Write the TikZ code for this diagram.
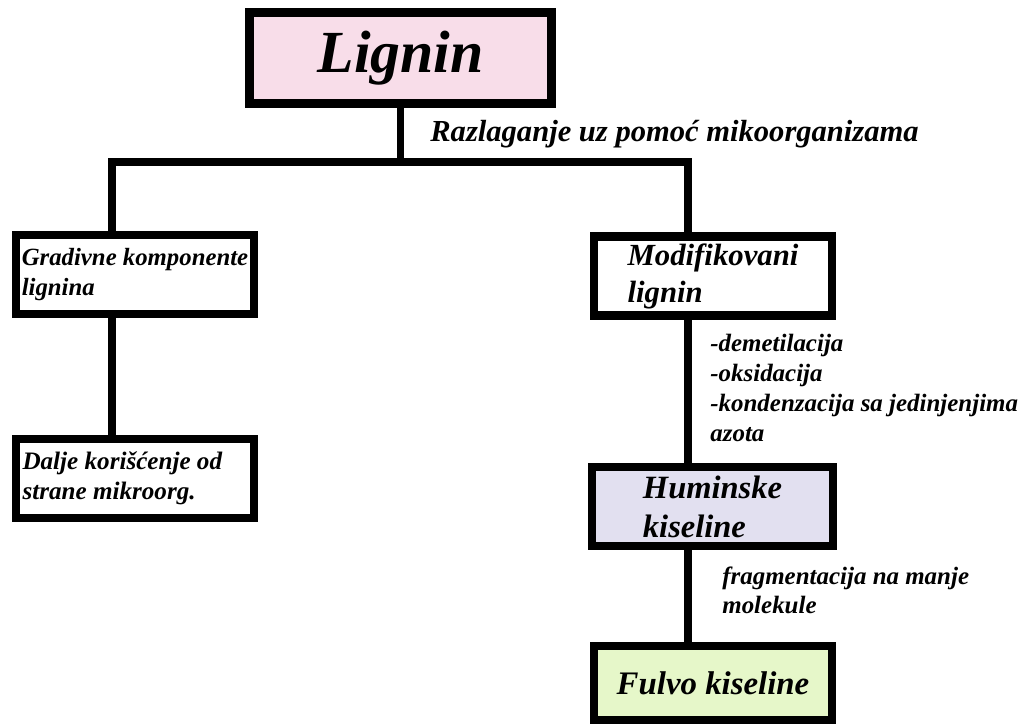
\documentclass[tikz,border=0pt]{standalone}
\usepackage{fontspec}
\setmainfont{Liberation Serif}
\usepackage{tikz}
\usetikzlibrary{calc}
\usepackage{xcolor}
\definecolor{ligninpink}{HTML}{F8DDE9}
\definecolor{huminlila}{HTML}{E2E0F0}
\definecolor{fulvogreen}{HTML}{E6F7C9}
\newcommand{\fsize}[1]{\fontsize{#1}{1.2\dimexpr#1\relax}\selectfont}

\tikzset{
    kutija/.style={draw,line width=4.6pt,align=flush left,inner sep=0pt,
        font=\bfseries\itshape},
    veza/.style={line width=4.4pt,line join=miter},
    opis/.style={align=flush left,inner sep=0pt,font=\bfseries\itshape}
}

\begin{document}
\begin{tikzpicture}[x=0.02cm,y=-0.02cm]
    \useasboundingbox (0,0) rectangle (1024,727);

    \node[kutija,fill=ligninpink,minimum width=6.04cm,minimum height=1.82cm,
        font=\bfseries\itshape\fsize{34pt}] (lignin) at (400.5,58)
        {\raisebox{-0.1cm}{Lignin}};

    \node[kutija,minimum width=4.76cm,minimum height=1.58cm,
        font=\bfseries\itshape\fsize{14.1pt}] (gradivne) at (135,274.5)
        {Gradivne komponente\\lignina};
    \node[kutija,minimum width=4.76cm,minimum height=1.58cm,text width=4.5cm,
        font=\bfseries\itshape\fsize{14.3pt}] (dalje) at (135,478.5)
        {Dalje korišćenje od\\strane mikroorg.};

    \node[kutija,minimum width=4.76cm,minimum height=1.58cm,
        font=\bfseries\itshape\fsize{17.5pt}] (modif) at (713,276)
        {Modifikovani\\lignin};
    \node[kutija,fill=huminlila,minimum width=4.82cm,minimum height=1.58cm,
        font=\bfseries\itshape\fsize{18.5pt}] (humin) at (712.5,506.5)
        {Huminske\\kiseline};
    \node[kutija,fill=fulvogreen,minimum width=4.76cm,minimum height=1.48cm,
        font=\bfseries\itshape\fsize{18.7pt}] (fulvo) at (713,683)
        {Fulvo kiseline};

    \coordinate (lgrana) at (112,162);
    \coordinate (dgrana) at (688,162);

    \draw[veza] (lignin.south) -- (lignin.south |- lgrana);
    \draw[veza] (lgrana |- gradivne.north) -- (lgrana) -- (dgrana) -- (dgrana |- modif.north);
    \draw[veza] (lgrana |- gradivne.south) -- (lgrana |- dalje.north);
    \draw[veza] (dgrana |- modif.south) -- (dgrana |- humin.north);
    \draw[veza] (dgrana |- humin.south) -- (dgrana |- fulvo.north);

    \node[opis,anchor=west,font=\bfseries\itshape\fsize{17.4pt}] (razlaganje) at (430,134)
        {Razlaganje uz pomoć mikoorganizama};
    \node[opis,anchor=north west,font=\bfseries\itshape\fontsize{14.2pt}{17pt}\selectfont]
        (procesi) at (710,334)
        {-demetilacija\\-oksidacija\\-kondenzacija sa jedinjenjima\\azota};
    \node[opis,anchor=north west,font=\bfseries\itshape\fontsize{14.2pt}{16pt}\selectfont]
        (fragm) at (722,567)
        {fragmentacija na manje\\molekule};
\end{tikzpicture}
\end{document}
